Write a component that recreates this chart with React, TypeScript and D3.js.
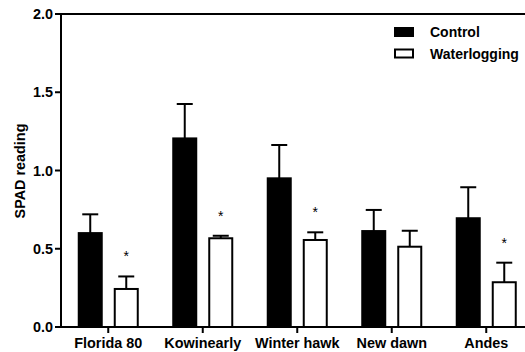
import React from "react";
import * as d3 from "d3";

const categories = ["Florida 80", "Kowinearly", "Winter hawk", "New dawn", "Andes"];
const series = ["Control", "Waterlogging"];
const controlMean = [0.6, 1.205, 0.95, 0.613, 0.695];
const controlErr = [0.12, 0.22, 0.213, 0.135, 0.198];
const waterMean = [0.243, 0.567, 0.556, 0.513, 0.286];
const waterErr = [0.08, 0.016, 0.049, 0.102, 0.125];
const significant = [true, true, true, false, true];
const yTicks = [0, 0.5, 1.0, 1.5, 2.0];

const W = 525;
const H = 352;
const FONT = "'Liberation Sans', Arial, sans-serif";

export default function App() {
  const x0 = d3.scaleBand<string>().domain(categories).range([61, 61 + 5 * 94.5]).padding(0);
  const x1 = d3
    .scaleBand<string>()
    .domain(series)
    .range([0, x0.bandwidth()])
    .paddingInner(11 / 36)
    .paddingOuter(0.465);
  const y = d3.scaleLinear().domain([0, 2]).range([327, 14]);

  const means = [controlMean, waterMean];
  const errs = [controlErr, waterErr];

  return (
    <svg
      width={W}
      height={H}
      style={{ position: "absolute", left: 0, top: 0, display: "block", background: "#fff" }}
      fontFamily={FONT}
    >
      <rect x={0} y={0} width={W} height={H} fill="#fff" />
      {categories.map((c, i) => (
        <g key={c}>
          {series.map((s, k) => {
            const v = means[k][i];
            const e = errs[k][i];
            const bx = (x0(c) as number) + (x1(s) as number);
            const bw = x1.bandwidth();
            const cx = bx + bw / 2;
            return (
              <g key={s}>
                <line x1={cx} x2={cx} y1={y(v)} y2={y(v + e)} stroke="#000" strokeWidth={2} />
                <line x1={cx - 8} x2={cx + 8} y1={y(v + e)} y2={y(v + e)} stroke="#000" strokeWidth={2} />
                <rect
                  x={bx + 1}
                  y={y(v)}
                  width={bw - 2}
                  height={y(0) - y(v)}
                  fill={k === 0 ? "#000" : "#fff"}
                  stroke="#000"
                  strokeWidth={2}
                />
                {k === 1 && significant[i] && (
                  <text x={cx} y={y(v + e) - 15} textAnchor="middle" fontSize={14} fill="#000">
                    *
                  </text>
                )}
              </g>
            );
          })}
          <line
            x1={(x0(c) as number) + x0.bandwidth() / 2}
            x2={(x0(c) as number) + x0.bandwidth() / 2}
            y1={327}
            y2={333}
            stroke="#000"
            strokeWidth={2}
          />
          <text
            x={(x0(c) as number) + x0.bandwidth() / 2}
            y={348}
            textAnchor="middle"
            fontSize={14.4}
            fontWeight="bold"
            fill="#000"
          >
            {c}
          </text>
        </g>
      ))}
      {/* axes */}
      <line x1={61} x2={61} y1={13} y2={328} stroke="#000" strokeWidth={2} />
      <line x1={60} x2={W} y1={327} y2={327} stroke="#000" strokeWidth={2} />
      <line x1={60} x2={W} y1={14} y2={14} stroke="#000" strokeWidth={2} />
      {yTicks.map((t) => (
        <g key={t}>
          <line x1={55} x2={61} y1={y(t)} y2={y(t)} stroke="#000" strokeWidth={2} />
          <text x={53} y={y(t) + 5} textAnchor="end" fontSize={14.4} fontWeight="bold" fill="#000">
            {t.toFixed(1)}
          </text>
        </g>
      ))}
      <text
        transform="translate(25,171) rotate(-90)"
        textAnchor="middle"
        fontSize={14.4}
        fontWeight="bold"
        fill="#000"
      >
        SPAD reading
      </text>
      {/* legend */}
      {series.map((s, k) => (
        <g key={s}>
          <rect
            x={395}
            y={28 + k * 21.5}
            width={18}
            height={8}
            fill={k === 0 ? "#000" : "#fff"}
            stroke="#000"
            strokeWidth={2}
          />
          <text x={430} y={37 + k * 21.5} fontSize={14} fontWeight="bold" fill="#000">
            {s}
          </text>
        </g>
      ))}
    </svg>
  );
}
